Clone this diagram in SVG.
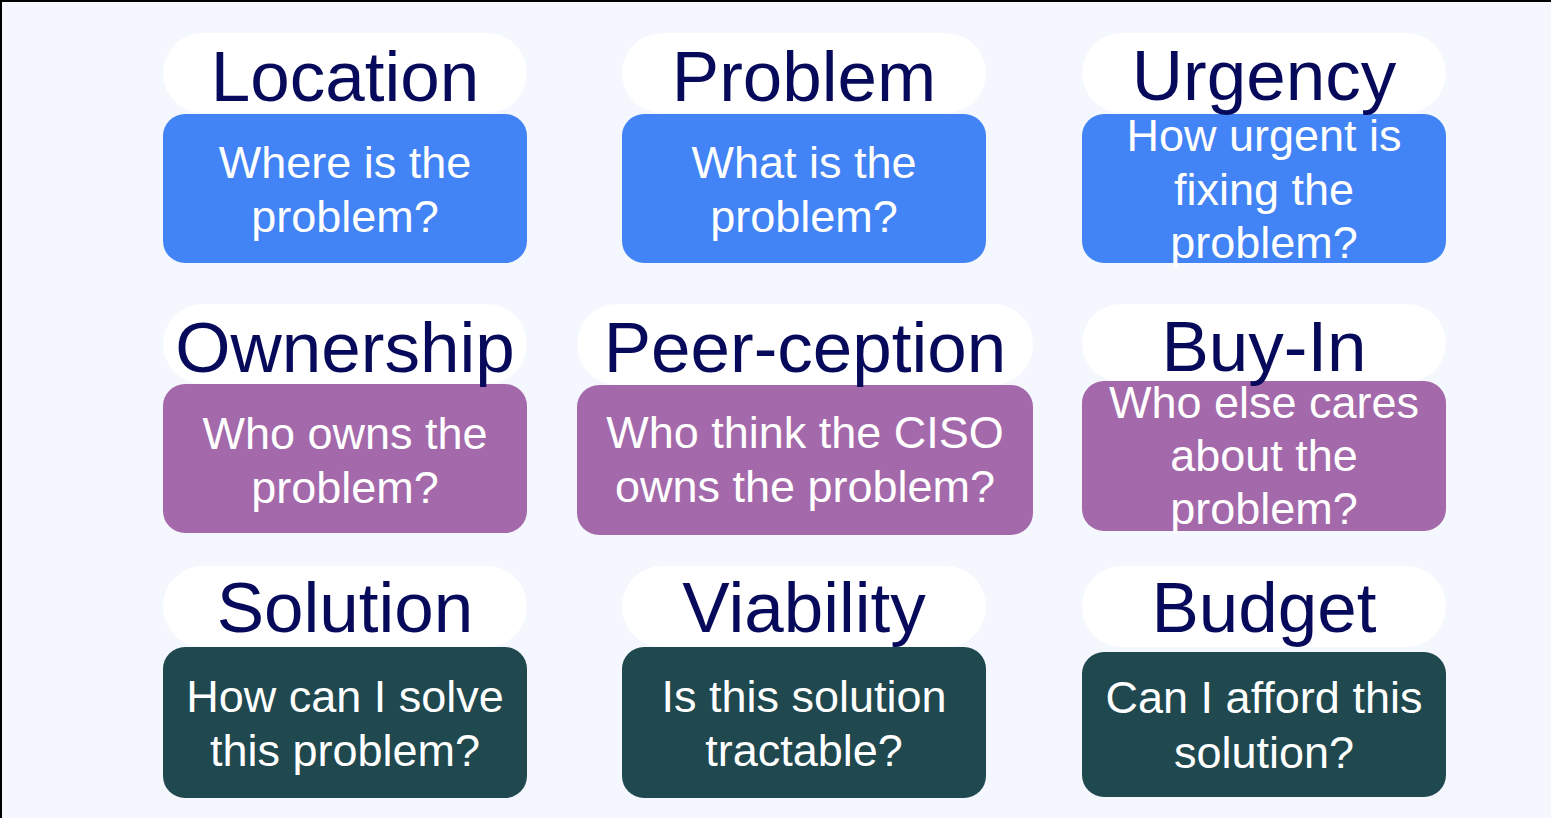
<svg xmlns="http://www.w3.org/2000/svg" width="1551" height="818" viewBox="0 0 1551 818">
<style>
.pill{fill:#ffffff}
.blue{fill:#4283F5}
.purple{fill:#A469AA}
.teal{fill:#20484F}
.title{font-family:"Liberation Sans",Arial,sans-serif;font-size:71px;fill:#070A5A;text-anchor:middle}
.body{font-family:"Liberation Sans",Arial,sans-serif;font-size:45px;fill:#ffffff;text-anchor:middle}
</style>
<rect x="0" y="0" width="1551" height="818" fill="#F4F7FE"/>
<line x1="0" y1="1" x2="1551" y2="1" stroke="#000" stroke-width="2"/>
<line x1="1" y1="0" x2="1" y2="818" stroke="#000" stroke-width="2"/>
<g id="connectors"></g>

<g id="location">
<rect class="pill" x="163" y="33" width="364" height="80" rx="40"/>
<rect class="blue" x="163" y="114" width="364" height="149" rx="22"/>
<text class="title" x="345" y="101">Location</text>
<text class="body" x="345" y="178">Where is the</text>
<text class="body" x="345" y="232">problem?</text>
</g>
<g id="problem">
<rect class="pill" x="622" y="33" width="364" height="80" rx="40"/>
<rect class="blue" x="622" y="114" width="364" height="149" rx="22"/>
<text class="title" x="804" y="101">Problem</text>
<text class="body" x="804" y="178">What is the</text>
<text class="body" x="804" y="232">problem?</text>
</g>
<g id="urgency">
<rect class="pill" x="1082" y="33" width="364" height="80" rx="40"/>
<rect class="blue" x="1082" y="114" width="364" height="149" rx="22"/>
<text class="title" x="1264" y="100">Urgency</text>
<text class="body" x="1264" y="151">How urgent is</text>
<text class="body" x="1264" y="205">fixing the</text>
<text class="body" x="1264" y="258">problem?</text>
</g>

<g id="ownership">
<rect class="pill" x="163" y="304" width="364" height="80" rx="40"/>
<rect class="purple" x="163" y="384" width="364" height="149" rx="22"/>
<text class="title" x="345" y="372">Ownership</text>
<text class="body" x="345" y="449">Who owns the</text>
<text class="body" x="345" y="503">problem?</text>
</g>
<g id="peerception">
<rect class="pill" x="577" y="304" width="456" height="81" rx="40"/>
<rect class="purple" x="577" y="385" width="456" height="150" rx="22"/>
<text class="title" x="805" y="372">Peer-ception</text>
<text class="body" x="805" y="448">Who think the CISO</text>
<text class="body" x="805" y="502">owns the problem?</text>
</g>
<g id="buyin">
<rect class="pill" x="1082" y="304" width="364" height="78" rx="39"/>
<rect class="purple" x="1082" y="381" width="364" height="150" rx="22"/>
<text class="title" x="1264" y="371">Buy-In</text>
<text class="body" x="1264" y="418">Who else cares</text>
<text class="body" x="1264" y="471">about the</text>
<text class="body" x="1264" y="524">problem?</text>
</g>

<g id="solution">
<rect class="pill" x="163" y="566" width="364" height="81" rx="40"/>
<rect class="teal" x="163" y="647" width="364" height="151" rx="22"/>
<text class="title" x="345" y="632">Solution</text>
<text class="body" x="345" y="712">How can I solve</text>
<text class="body" x="345" y="766">this problem?</text>
</g>
<g id="viability">
<rect class="pill" x="622" y="566" width="364" height="81" rx="40"/>
<rect class="teal" x="622" y="647" width="364" height="151" rx="22"/>
<text class="title" x="804" y="632">Viability</text>
<text class="body" x="804" y="712">Is this solution</text>
<text class="body" x="804" y="766">tractable?</text>
</g>
<g id="budget">
<rect class="pill" x="1082" y="566" width="364" height="81" rx="40"/>
<rect class="teal" x="1082" y="652" width="364" height="145" rx="22"/>
<text class="title" x="1264" y="632">Budget</text>
<text class="body" x="1264" y="713">Can I afford this</text>
<text class="body" x="1264" y="768">solution?</text>
</g>
</svg>
